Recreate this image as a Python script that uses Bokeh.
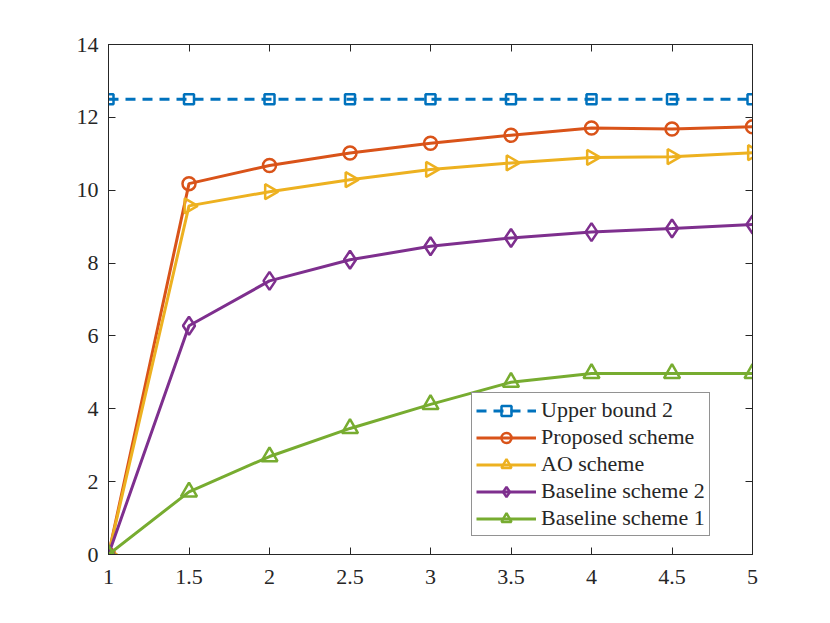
import math
from bokeh.plotting import figure
from bokeh.models import Range1d, FixedTicker, LinearAxis, CustomJSTickFormatter, Legend, LegendItem
from bokeh.embed import file_html
from bokeh.resources import INLINE

x = [1, 1.5, 2, 2.5, 3, 3.5, 4, 4.5, 5]
upper_bound_2 = [12.5, 12.5, 12.5, 12.5, 12.5, 12.5, 12.5, 12.5, 12.5]
proposed = [0, 10.18, 10.68, 11.02, 11.29, 11.51, 11.71, 11.68, 11.74]
ao = [0, 9.57, 9.96, 10.29, 10.57, 10.75, 10.90, 10.92, 11.03]
baseline2 = [0, 6.28, 7.51, 8.09, 8.46, 8.69, 8.85, 8.95, 9.06]
baseline1 = [0, 1.72, 2.69, 3.46, 4.12, 4.73, 4.97, 4.97, 4.97]

x_ticks = [1, 1.5, 2, 2.5, 3, 3.5, 4, 4.5, 5]
x_tick_labels = ["1", "1.5", "2", "2.5", "3", "3.5", "4", "4.5", "5"]
y_ticks = [0, 2, 4, 6, 8, 10, 12, 14]
y_tick_labels = ["0", "2", "4", "6", "8", "10", "12", "14"]

labels = ["Upper bound 2", "Proposed scheme", "AO scheme", "Baseline scheme 2", "Baseline scheme 1"]
colors = ["#0072BD", "#D95319", "#EDB120", "#7E2F8E", "#77AC30"]

FONT = "Liberation Serif"
AX = "#262626"

p = figure(width=814, height=607, output_backend="svg", toolbar_location=None,
           x_range=Range1d(1, 5), y_range=Range1d(0, 14),
           min_border_left=108, min_border_right=62, min_border_top=44, min_border_bottom=53)
p.background_fill_color = "white"
p.border_fill_color = "white"
p.grid.visible = False
p.outline_line_color = AX

def style_axis(ax, standoff):
    ax.axis_line_color = AX
    ax.axis_line_width = 1
    ax.major_tick_line_color = AX
    ax.major_tick_in = 7
    ax.major_tick_out = 0
    ax.minor_tick_line_color = None
    ax.major_label_text_font = FONT
    ax.major_label_text_font_size = "22px"
    ax.major_label_text_color = AX
    ax.major_label_standoff = standoff

p.xaxis.ticker = FixedTicker(ticks=x_ticks)
p.yaxis.ticker = FixedTicker(ticks=y_ticks)
p.xaxis.major_label_overrides = {t: l for t, l in zip(x_ticks, x_tick_labels)}
p.yaxis.major_label_overrides = {t: l for t, l in zip(y_ticks, y_tick_labels)}
style_axis(p.xaxis[0], 15)
style_axis(p.yaxis[0], 10)

blank = CustomJSTickFormatter(code="return ''")
top = LinearAxis(ticker=FixedTicker(ticks=x_ticks), formatter=blank)
right = LinearAxis(ticker=FixedTicker(ticks=y_ticks), formatter=blank)
style_axis(top, 0)
style_axis(right, 0)
p.add_layout(top, "above")
p.add_layout(right, "right")

series = [upper_bound_2, proposed, ao, baseline2, baseline1]
markers = ["square", "circle", "triangle", "diamond", "triangle"]
sizes = [10, 13, 15, 18, 16]
angles = [0, 0, -math.pi / 2, 0, 0]
dashes = ["10 7", "solid", "solid", "solid", "solid"]

items = []
for ys, lab, c, m, s, a, d in zip(series, labels, colors, markers, sizes, angles, dashes):
    ln = p.line(x, ys, line_color=c, line_width=3, line_dash=d)
    sc = p.scatter(x, ys, marker=m, size=s, angle=a, line_color=c, line_width=2.5,
                   fill_color=None)
    items.append(LegendItem(label=lab, renderers=[ln, sc]))

legend = Legend(items=items, location=(363, 18), margin=0, padding=4, spacing=1,
                glyph_width=60, glyph_height=25, label_height=25, label_standoff=5,
                label_text_font=FONT, label_text_font_size="22px", label_text_color=AX,
                border_line_color=AX, border_line_width=1, background_fill_color="white",
                background_fill_alpha=1)
p.add_layout(legend, "center")

open("out.html", "w").write(file_html(p, INLINE))
